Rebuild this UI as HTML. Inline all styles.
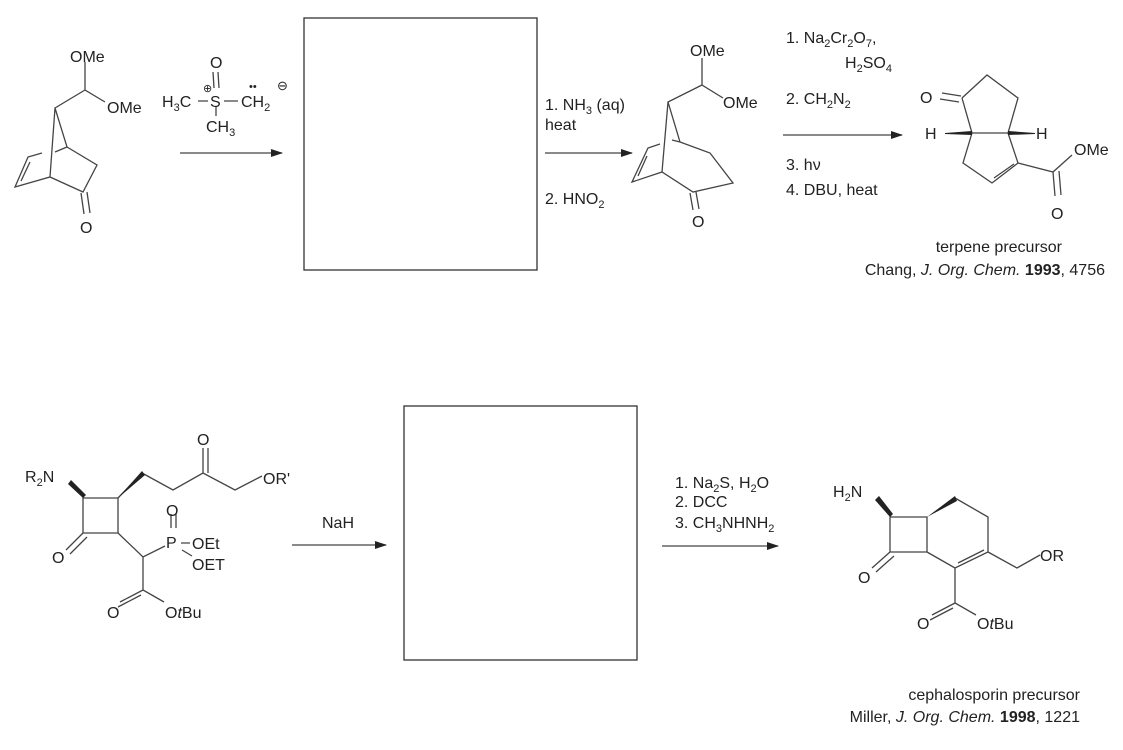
<!DOCTYPE html>
<html><head><meta charset="utf-8"><style>
html,body{margin:0;padding:0;background:#fff;width:1123px;height:750px;overflow:hidden}
svg{display:block}
text{font-family:"Liberation Sans",sans-serif;font-size:16px;fill:#222}
.s{font-size:11px}
</style></head><body>
<svg width="1123" height="750" viewBox="0 0 1123 750">
<defs><marker id="ah" markerWidth="12" markerHeight="8" refX="11" refY="4" orient="auto" markerUnits="userSpaceOnUse"><path d="M0,0 L12,4 L0,8 Z" fill="#222"/></marker></defs>
<g stroke="#444" stroke-width="1.3" fill="none">
<rect x="304" y="18" width="233" height="252" stroke="#333"/>
<rect x="404" y="406" width="233" height="254" stroke="#333"/>
<line x1="180" y1="153" x2="282" y2="153" marker-end="url(#ah)"/>
<line x1="545" y1="153" x2="632" y2="153" marker-end="url(#ah)"/>
<line x1="783" y1="135" x2="902" y2="135" marker-end="url(#ah)"/>
<line x1="292" y1="545" x2="386" y2="545" marker-end="url(#ah)"/>
<line x1="662" y1="546" x2="778" y2="546" marker-end="url(#ah)"/>
<path d="M85,62 L85,90 L105,102 M85,90 L55,108 L67,147 L97,165 L83,192 L50,177 L15,187 L28,157 L42,153 M50,177 L55,108"/>
<path d="M55,152 L67,147"/>
<path d="M21,181 L30,162"/>
<path d="M81,193 L84,214 M87,192 L90,213"/>
<path d="M198,101 L208,101 M224,101 L238,101 M216,106 L216,116 M213,72 L214,88 M218,72 L219,88"/>
<path d="M702,58 L702,85 L723,98 M702,85 L668,102 L680,142 L710,153 L733,183 L693,192 L662,172 L632,182 L648,148 L660,144 M662,172 L668,102 M672,140 L680,142"/>
<path d="M638,176 L647,156"/>
<path d="M690,193 L693,210 M696,192 L699,209"/>
<path d="M962,98 L987,75 L1018,98 L1008,133 L972,133 L962,98 M972,133 L963,163 L992,183 L1018,163 L1008,133 M1018,163 L1053,172 L1072,155 M1053,172 L1055,196 M1059,171 L1061,195 M994,178 L1014,164"/>
<path d="M942,93 L961,96 M940,99 L959,102"/>
<path d="M83,498 L118,498 L118,533 L83,533 Z M118,498 L142,473 M142,473 L173,490 L203,473 L235,490 L262,476 M203,473 L203,448 M208,473 L208,448 M83,533 L66,550 M87,537 L70,554 M118,533 L143,557 L165,546 M143,557 L143,590 L164,602 M143,590 L120,602 M141,595 L118,607 M171,528 L171,514 M176,528 L176,514 M181,543 L190,543 M182,550 L192,556"/>
<path d="M890,517 L927,517 L927,552 L890,552 Z M955,498 L988,517 L988,552 L955,568 L927,552 M988,552 L1017,568 L1040,555 M958,563 L984,550 M955,568 L955,603 L976,615 M955,603 L932,615 M953,608 L930,620 M890,552 L872,568 M894,556 L876,572"/>
</g>
<g fill="#222">
<polygon points="68,484 83,498 86,495 71,480"/>
<polygon points="118,498 142,471 145,475"/>
<polygon points="875,500 890,517 893,514 879,496"/>
<polygon points="927,517 955,496 957,501"/>
<polygon points="945,133 972,131 972,135 945,134" />
<polygon points="1008,131 1035,133 1035,134 1008,135"/>
</g>
<text x="70" y="62">OMe</text>
<text x="107" y="113">OMe</text>
<text x="162" y="107">H<tspan class="s" dy="4">3</tspan><tspan dy="-4">C</tspan></text>
<text x="210" y="107">S</text>
<text x="210" y="68">O</text>
<text x="203" y="92" class="s">⊕</text>
<text x="241" y="107">CH<tspan class="s" dy="4">2</tspan></text>
<text x="249" y="90" class="s">••</text>
<text x="277" y="90" style="font-size:13px">⊖</text>
<text x="206" y="132">CH<tspan class="s" dy="4">3</tspan></text>
<text x="80" y="233">O</text>
<text x="545" y="110">1.  NH<tspan class="s" dy="4">3</tspan><tspan dy="-4"> (aq)</tspan></text>
<text x="545" y="130">heat</text>
<text x="545" y="204">2.  HNO<tspan class="s" dy="4">2</tspan></text>
<text x="690" y="56">OMe</text>
<text x="723" y="108">OMe</text>
<text x="692" y="227">O</text>
<text x="786" y="43">1. Na<tspan class="s" dy="4">2</tspan><tspan dy="-4">Cr</tspan><tspan class="s" dy="4">2</tspan><tspan dy="-4">O</tspan><tspan class="s" dy="4">7</tspan><tspan dy="-4">,</tspan></text>
<text x="845" y="68">H<tspan class="s" dy="4">2</tspan><tspan dy="-4">SO</tspan><tspan class="s" dy="4">4</tspan></text>
<text x="786" y="104">2. CH<tspan class="s" dy="4">2</tspan><tspan dy="-4">N</tspan><tspan class="s" dy="4">2</tspan></text>
<text x="786" y="170">3. hν</text>
<text x="786" y="195">4. DBU, heat</text>
<text x="920" y="103">O</text>
<text x="925" y="139">H</text>
<text x="1036" y="139">H</text>
<text x="1074" y="155">OMe</text>
<text x="1051" y="219">O</text>
<text x="1062" y="252" text-anchor="end">terpene precursor</text>
<text x="1105" y="275" text-anchor="end">Chang, <tspan font-style="italic">J. Org. Chem.</tspan> <tspan font-weight="bold">1993</tspan>, 4756</text>
<text x="25" y="482">R<tspan class="s" dy="4">2</tspan><tspan dy="-4">N</tspan></text>
<text x="197" y="445">O</text>
<text x="263" y="484">OR'</text>
<text x="52" y="563">O</text>
<text x="166" y="516">O</text>
<text x="166" y="548">P</text>
<text x="192" y="549">OEt</text>
<text x="192" y="570">OET</text>
<text x="107" y="618">O</text>
<text x="165" y="618">O<tspan font-style="italic">t</tspan>Bu</text>
<text x="322" y="528">NaH</text>
<text x="675" y="488">1.  Na<tspan class="s" dy="4">2</tspan><tspan dy="-4">S, H</tspan><tspan class="s" dy="4">2</tspan><tspan dy="-4">O</tspan></text>
<text x="675" y="507">2. DCC</text>
<text x="675" y="528">3.  CH<tspan class="s" dy="4">3</tspan><tspan dy="-4">NHNH</tspan><tspan class="s" dy="4">2</tspan></text>
<text x="833" y="497">H<tspan class="s" dy="4">2</tspan><tspan dy="-4">N</tspan></text>
<text x="1040" y="561">OR</text>
<text x="858" y="583">O</text>
<text x="917" y="629">O</text>
<text x="977" y="629">O<tspan font-style="italic">t</tspan>Bu</text>
<text x="1080" y="700" text-anchor="end">cephalosporin precursor</text>
<text x="1080" y="722" text-anchor="end">Miller, <tspan font-style="italic">J. Org. Chem.</tspan> <tspan font-weight="bold">1998</tspan>, 1221</text>
</svg>
</body></html>
